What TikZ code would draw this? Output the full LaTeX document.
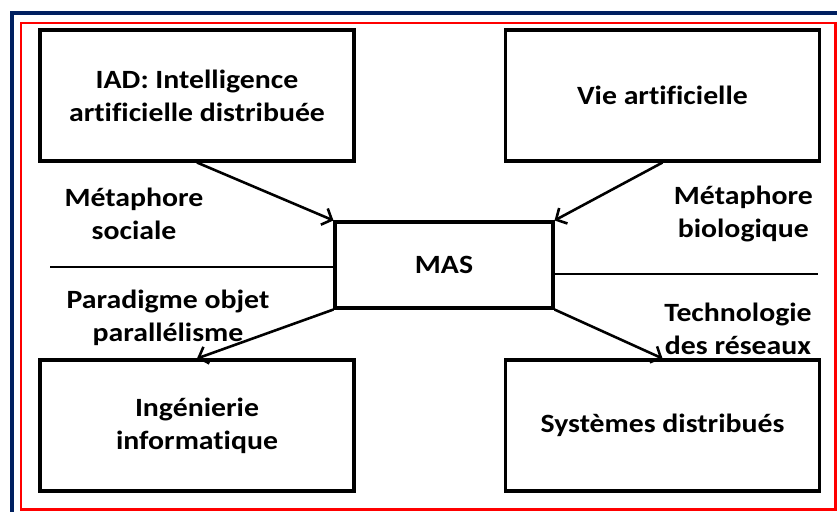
\documentclass[tikz,border=0pt]{standalone}
\usepackage{fontspec}
\setmainfont{Carlito}[Ligatures=CommonOff,FakeStretch=1.13]
\usetikzlibrary{arrows.meta}
\definecolor{bleu}{RGB}{0,32,96}
\tikzset{
boite/.style={draw,line width=2.6pt,inner sep=0pt,align=center,minimum width=9.42cm,minimum height=3.93cm},
etiq/.style={align=center},
fl/.style={line width=2.2pt,-{Straight Barb[length=7pt,width=15pt]}}
}

\begin{document}
\begin{tikzpicture}[font=\fontsize{22.5}{28.2}\selectfont\bfseries]
\useasboundingbox (0,0) rectangle (25.11,-15.36);
\draw[bleu,line width=3.4pt] (0.36,-15.36) -- (0.36,-0.39) -- (25.11,-0.39);
\draw[red,line width=2.4pt] (0.63,-0.69) rectangle (25.07,-15.29);
\node[boite] (iad) at (5.91,-2.865) {IAD: Intelligence\\artificielle distribuée};
\node[boite] (vie) at (19.875,-2.865) {Vie artificielle};
\node[boite,minimum width=6.54cm,minimum height=2.58cm] (mas) at (13.32,-7.95) {MAS};
\node[boite] (ing) at (5.91,-12.765) {Ingénierie\\informatique};
\node[boite] (sys) at (19.875,-12.765) {Systèmes distribués};
\node[etiq] (soc) at (4.02,-6.42) {Métaphore\\sociale};
\node[etiq] (bio) at (22.3,-6.42) {Métaphore\\biologique};
\node[etiq] (par) at (5.04,-9.54) {Paradigme objet\\parallélisme};
\node[etiq] (tec) at (22.14,-9.87) {Technologie\\des réseaux};
\coordinate (g) at (1.5,-8.01);
\coordinate (d) at (24.54,-8.22);
\draw[line width=2.2pt] (g) -- (g -| mas.west);
\draw[line width=2.2pt] (mas.east |- d) -- (d);
\draw[fl] (iad.south) -- (mas.north west);
\draw[fl] (vie.south) -- (mas.north east);
\draw[fl] (mas.south west) -- (ing.north);
\draw[fl] (mas.south east) -- (sys.north);
\end{tikzpicture}
\end{document}
